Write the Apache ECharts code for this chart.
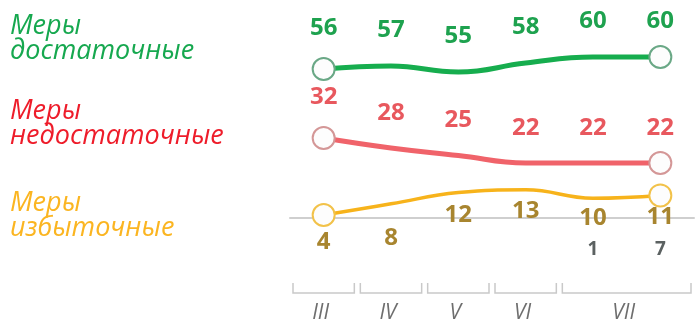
<!DOCTYPE html>
<html>
<head>
<meta charset="utf-8">
<script src="https://cdn.jsdelivr.net/npm/echarts@6/dist/echarts.min.js"></script>
<style>
  html, body { margin: 0; padding: 0; background: #fff; }
  #chart { width: 698px; height: 321px; }
</style>
</head>
<body>
<div id="chart"></div>
<script>
// Survey points: months III–VI, then two readings in July (1st and 7th)
const months = ['III', 'IV', 'V', 'VI', 'VII'];
const monthSpans = [[0, 0], [1, 1], [2, 2], [3, 3], [4, 5]]; // first/last point index per month
const pointDays = ['', '', '', '', '1', '7'];

const sufficient = [56, 57, 55, 58, 60, 60];    // Меры достаточные
const insufficient = [32, 28, 25, 22, 22, 22];  // Меры недостаточные
const excessive = [4, 8, 12, 13, 10, 11];       // Меры избыточные

const seriesNames = ['Меры достаточные', 'Меры недостаточные', 'Меры избыточные'];

const chart = echarts.init(document.getElementById('chart'), null, { renderer: 'canvas' });

const lastIdx = pointDays.length - 1;

// Visual styling per line: colours, label placement
const styles = [
  { line: '#16ad4e', label: '#1ea24f', ring: '#6aa886', width: 5,
    shift: i => (i === 0 ? -41 : -36) },
  { line: '#f0636a', label: '#e8585e', ring: '#d49797', width: 5,
    shift: i => (i === 0 ? -41 : -35) },
  { line: '#f7b31b', label: '#a8852f', ring: '#f2c24a', width: 3.5,
    shift: i => [27, 34, 23, 21, 20, 22][i] }
];

function buildSeries(values, idx) {
  const st = styles[idx];
  return {
    name: seriesNames[idx],
    type: 'line',
    yAxisIndex: idx,
    smooth: 0.45,
    showAllSymbol: true,
    symbol: 'circle',
    symbolSize: (v, p) => (p.dataIndex === 0 || p.dataIndex === lastIdx ? 22 : 0),
    itemStyle: { color: '#fdfdfd', borderColor: st.ring, borderWidth: 2 },
    lineStyle: { color: st.line, width: st.width },
    z: 3,
    data: values.map((v, i) => ({
      value: v,
      label: { offset: [0, st.shift(i)] }
    })),
    label: {
      show: true,
      position: 'inside',
      color: st.label,
      fontFamily: 'Open Sans',
      fontWeight: 'bold',
      fontSize: 24
    },
    emphasis: { disabled: true },
    animation: false
  };
}

// Month brackets under the axis, placed through the category scale
const bracketSeries = {
  type: 'custom',
  xAxisIndex: 0,
  yAxisIndex: 0,
  silent: true,
  animation: false,
  data: monthSpans.map((s, i) => [s[0], s[1], i]),
  renderItem: function (params, api) {
    const a = api.coord([api.value(0), 0]);
    const b = api.coord([api.value(1), 0]);
    const band = api.size([1, 0])[0];
    const x1 = a[0] - band / 2 + 3;
    const x2 = b[0] + band / 2 - 3;
    const top = 283, bottom = 293;
    return {
      type: 'group',
      children: [
        {
          type: 'polyline',
          shape: { points: [[x1, top], [x1, bottom], [x2, bottom], [x2, top]] },
          style: { stroke: '#c9c9c9', lineWidth: 1.5, fill: null }
        },
        {
          type: 'text',
          style: {
            x: (x1 + x2) / 2 - 3,
            y: 313,
            text: months[api.value(2)],
            fill: '#6e6e6e',
            font: 'italic 21px "Open Sans"',
            align: 'center',
            verticalAlign: 'middle'
          }
        }
      ]
    };
  }
};

function titleBlock(text, color, top) {
  return {
    text: text,
    left: 5,
    top: top,
    textStyle: {
      color: color,
      fontFamily: 'Open Sans',
      fontStyle: 'italic',
      fontWeight: 'normal',
      fontSize: 27,
      lineHeight: 25
    }
  };
}

const option = {
  backgroundColor: '#ffffff',
  title: [
    titleBlock('Меры\nдостаточные', '#16a84f', 9),
    titleBlock('Меры\nнедостаточные', '#ee1c2a', 94),
    titleBlock('Меры\nизбыточные', '#fbb521', 186)
  ],
  grid: { left: 290, right: 4, top: 0, height: 226, containLabel: false },
  xAxis: {
    type: 'category',
    boundaryGap: true,
    data: pointDays.map((d, i) => String(i)),
    axisLine: { show: true, lineStyle: { color: '#cfcfcf', width: 2 } },
    axisTick: { show: false },
    splitLine: { show: false },
    axisLabel: {
      show: true,
      margin: 14,
      interval: 0,
      formatter: (v, i) => pointDays[i],
      color: '#5b6161',
      fontFamily: 'Noto Sans',
      fontWeight: 'bold',
      fontSize: 19
    }
  },
  yAxis: [
    { type: 'value', min: 3.667, max: 79, show: false },
    { type: 'value', min: -3.2, max: 87.2, show: false },
    { type: 'value', min: 0.07, max: 80.79, show: false }
  ],
  series: [
    buildSeries(sufficient, 0),
    buildSeries(insufficient, 1),
    buildSeries(excessive, 2),
    bracketSeries
  ]
};

chart.setOption(option);
</script>
</body>
</html>
